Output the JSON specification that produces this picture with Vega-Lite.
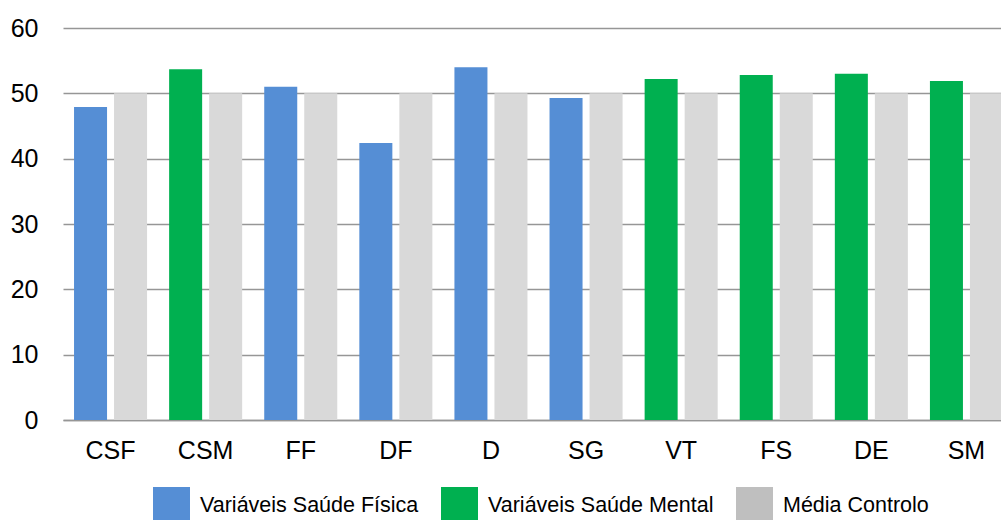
{
  "$schema": "https://vega.github.io/schema/vega-lite/v6.json",
  "autosize": {"type": "none"},
  "padding": {"left": 63, "top": 28, "right": 0, "bottom": 100},
  "width": 951,
  "height": 392,
  "background": "white",
  "config": {
    "font": "Liberation Sans",
    "view": {"stroke": null},
    "axis": {"labelFont": "Liberation Sans", "labelColor": "#000000"}
  },
  "data": {
    "values": [
      {"cat": "CSF", "tipo": "a", "grupo": "Variáveis Saúde Física", "valor": 47.9},
      {"cat": "CSF", "tipo": "b", "grupo": "Média Controlo", "valor": 50},
      {"cat": "CSM", "tipo": "a", "grupo": "Variáveis Saúde Mental", "valor": 53.7},
      {"cat": "CSM", "tipo": "b", "grupo": "Média Controlo", "valor": 50},
      {"cat": "FF", "tipo": "a", "grupo": "Variáveis Saúde Física", "valor": 51.0},
      {"cat": "FF", "tipo": "b", "grupo": "Média Controlo", "valor": 50},
      {"cat": "DF", "tipo": "a", "grupo": "Variáveis Saúde Física", "valor": 42.4},
      {"cat": "DF", "tipo": "b", "grupo": "Média Controlo", "valor": 50},
      {"cat": "D", "tipo": "a", "grupo": "Variáveis Saúde Física", "valor": 54.0},
      {"cat": "D", "tipo": "b", "grupo": "Média Controlo", "valor": 50},
      {"cat": "SG", "tipo": "a", "grupo": "Variáveis Saúde Física", "valor": 49.3},
      {"cat": "SG", "tipo": "b", "grupo": "Média Controlo", "valor": 50},
      {"cat": "VT", "tipo": "a", "grupo": "Variáveis Saúde Mental", "valor": 52.2},
      {"cat": "VT", "tipo": "b", "grupo": "Média Controlo", "valor": 50},
      {"cat": "FS", "tipo": "a", "grupo": "Variáveis Saúde Mental", "valor": 52.8},
      {"cat": "FS", "tipo": "b", "grupo": "Média Controlo", "valor": 50},
      {"cat": "DE", "tipo": "a", "grupo": "Variáveis Saúde Mental", "valor": 53.0},
      {"cat": "DE", "tipo": "b", "grupo": "Média Controlo", "valor": 50},
      {"cat": "SM", "tipo": "a", "grupo": "Variáveis Saúde Mental", "valor": 51.9},
      {"cat": "SM", "tipo": "b", "grupo": "Média Controlo", "valor": 50}
    ]
  },
  "mark": {"type": "bar"},
  "encoding": {
    "x": {
      "field": "cat",
      "type": "nominal",
      "sort": null,
      "scale": {"paddingInner": 0.232, "paddingOuter": 0.116},
      "axis": {
        "title": null,
        "labelAngle": 0,
        "labelFontSize": 25,
        "labelPadding": 18,
        "ticks": false,
        "domain": true,
        "domainColor": "#969696",
        "domainWidth": 1.5,
        "grid": false
      }
    },
    "xOffset": {
      "field": "tipo",
      "type": "nominal",
      "scale": {"paddingInner": 0.175, "paddingOuter": 0}
    },
    "y": {
      "field": "valor",
      "type": "quantitative",
      "scale": {"domain": [0, 60], "nice": false},
      "axis": {
        "title": null,
        "values": [0, 10, 20, 30, 40, 50, 60],
        "labelFontSize": 25,
        "labelPadding": 25,
        "ticks": false,
        "domain": false,
        "grid": true,
        "gridColor": "#969696",
        "gridWidth": 1.5
      }
    },
    "fill": {
      "condition": {"test": "datum.tipo === 'b'", "value": "#D9D9D9"},
      "field": "grupo",
      "type": "nominal",
      "scale": {
        "domain": ["Variáveis Saúde Física", "Variáveis Saúde Mental", "Média Controlo"],
        "range": ["#558ED5", "#00B050", "#BFBFBF"]
      },
      "legend": {
        "title": null,
        "orient": "none",
        "legendX": 90,
        "legendY": 459,
        "direction": "horizontal",
        "padding": 0,
        "symbolType": "square",
        "symbolSize": 1369,
        "symbolStrokeWidth": 0,
        "labelFontSize": 21.5,
        "labelFont": "Liberation Sans",
        "labelColor": "#000000",
        "labelOffset": 10,
        "columnPadding": 22,
        "labelLimit": 400
      }
    }
  }
}
